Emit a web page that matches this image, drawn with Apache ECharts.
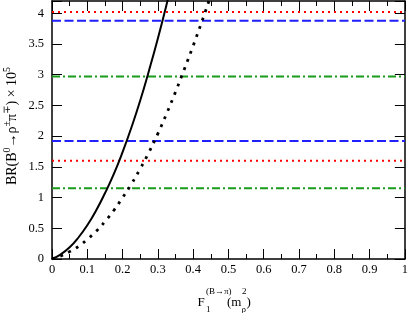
<!DOCTYPE html>
<html><head><meta charset="utf-8">
<script src="https://cdn.jsdelivr.net/npm/echarts@6/dist/echarts.min.js"></script>
<style>html,body{margin:0;padding:0;background:#fff}#c{width:411px;height:313px}</style>
</head><body><div id="c"></div>
<script>
// Horizontal reference levels (BR x 10^5)
const redLevels = [4.02, 1.60];
const blueLevels = [3.88, 1.92];
const greenLevels = [2.97, 1.15];

// Solid curve
const solidX = [0, 0.025, 0.05, 0.075, 0.1, 0.125, 0.15, 0.175, 0.2, 0.225, 0.25, 0.275, 0.3, 0.325, 0.35];
const solidBR = [0, 0.076, 0.19, 0.35, 0.55, 0.79, 1.07, 1.38, 1.74, 2.14, 2.58, 3.07, 3.59, 4.15, 4.75];

// Dotted curve
const dottedX = [0, 0.025, 0.05, 0.075, 0.1, 0.125, 0.15, 0.175, 0.2, 0.225, 0.25, 0.275, 0.3, 0.325, 0.35, 0.375, 0.4, 0.425, 0.45];
const dottedBR = [0, 0.05, 0.12, 0.205, 0.32, 0.45, 0.61, 0.79, 1.0, 1.22, 1.47, 1.74, 2.04, 2.37, 2.72, 3.09, 3.47, 3.87, 4.29];

const xMin = 0, xMax = 1, xStep = 0.1;
const yMin = 0, yMax = 4.2, yStep = 0.5;

const FONT = '"Liberation Serif", "DejaVu Serif", serif';
const chart = echarts.init(document.getElementById('c'), null, {renderer: 'canvas'});

function hLine(v, color, dash, width) {
  return {
    type: 'line', xAxisIndex: 0, yAxisIndex: 0, symbol: 'none', silent: true,
    data: [[xMin, v], [xMax, v]],
    lineStyle: {color: color, width: width, type: dash, cap: 'butt'},
    z: 2
  };
}

const series = [];
redLevels.forEach(v => series.push(hLine(v, '#ff0000', [2, 4], 2)));
blueLevels.forEach(v => series.push(hLine(v, '#1f1fff', [9, 3.5], 2)));
greenLevels.forEach(v => series.push(hLine(v, '#1a9a1a', [8, 3, 2, 3], 2)));
series.push({
  type: 'line', symbol: 'none', smooth: 0.5, clip: true,
  data: solidX.map((x, i) => [x, solidBR[i]]),
  lineStyle: {color: '#000', width: 2}, z: 3
});
series.push({
  type: 'line', symbol: 'none', smooth: 0.5, clip: true,
  data: dottedX.map((x, i) => [x, dottedBR[i]]),
  lineStyle: {color: '#000', width: 2.8, type: [2.8, 6], cap: 'butt'}, z: 3
});

function axisCommon(showLabel) {
  return {
    axisLine: {show: true, onZero: false, lineStyle: {color: '#000', width: 1.5}},
    axisTick: {show: true, inside: true, length: 10, lineStyle: {color: '#000', width: 1}},
    splitLine: {show: false},
    axisLabel: {show: showLabel, color: '#000', fontFamily: FONT, fontSize: 12.5}
  };
}

const xa0 = Object.assign(axisCommon(true), {type: 'value', position: 'bottom', min: xMin, max: xMax, interval: xStep,
  minorTick: {show: true, splitNumber: 2, length: 5, lineStyle: {color: '#000', width: 1}}});
xa0.axisLabel.margin = 4;
const xa1 = Object.assign(axisCommon(false), {type: 'value', position: 'top', min: xMin, max: xMax, interval: xStep,
  minorTick: {show: true, splitNumber: 2, length: 5, lineStyle: {color: '#000', width: 1}}});
const ya0 = Object.assign(axisCommon(true), {type: 'value', position: 'left', min: yMin, max: yMax, interval: yStep});
ya0.axisLabel.margin = 8;
ya0.axisLabel.formatter = function (v) {
  const k = Math.round(v / yStep);
  return Math.abs(k * yStep - v) < 1e-6 ? String(Math.round(v * 10) / 10) : '';
};
const ya1 = Object.assign(axisCommon(false), {type: 'value', position: 'right', min: yMin, max: yMax, interval: yStep});

const big = {fontFamily: FONT, fontSize: 14, lineHeight: 20, color: '#000'};
const sup = {fontFamily: FONT, fontSize: 10, lineHeight: 11, verticalAlign: 'top', color: '#000'};

function t(text, x, y, size) {
  return {type: 'text', x: x, y: y, silent: true,
    style: {text: text, font: size + 'px ' + FONT, fill: '#000', align: 'left', verticalAlign: 'middle'}};
}

chart.setOption({
  animation: false,
  backgroundColor: '#fff',
  grid: {left: 52, right: 3, top: 1, bottom: 54, containLabel: false},
  xAxis: [xa0, xa1],
  yAxis: [ya0, ya1],
  series: series,
  graphic: [
    {type: 'text', x: 12, y: 126, rotation: Math.PI / 2, silent: true,
      style: {text: '{n|BR(B}{s|0}{n|\u2192\u03c1}{s|\u00b1}{n|\u03c0}{s|\u2213}{n|) \u00d7 10}{s|5}',
        rich: {n: big, s: sup}, align: 'center', verticalAlign: 'middle'}},
    t('F', 197.5, 303, 13),
    t('(B\u2192\u03c0)', 206, 292, 9),
    t('1', 206, 309.5, 9),
    t('(m', 227, 303, 13),
    t('2', 242, 291.5, 9),
    t('\u03c1', 241.5, 309.5, 9),
    t(')', 246.5, 303, 13)
  ]
});
</script>
</body></html>
